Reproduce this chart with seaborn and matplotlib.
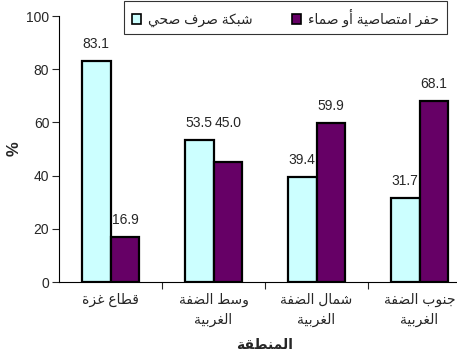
import matplotlib
matplotlib.use("Agg")
import matplotlib.pyplot as plt
from matplotlib.patches import Patch
import pandas as pd
import seaborn as sns

regions = ["قطاع غزة", "وسط الضفة\nالغربية", "شمال الضفة\nالغربية", "جنوب الضفة\nالغربية"]
series_names = ["شبكة صرف صحي", "حفر امتصاصية أو صماء"]
sewer_network = [83.1, 53.5, 39.4, 31.7]
cesspits = [16.9, 45.0, 59.9, 68.1]
y_ticks = [0, 20, 40, 60, 80, 100]
x_title = "المنطقة"
y_title = "%"
colors = ["#CCFFFF", "#660066"]

# matplotlib has no arabic shaping, so pick the presentation forms by hand
DUAL = {'ب': 0xFE8F, 'ت': 0xFE95, 'ج': 0xFE9D, 'ح': 0xFEA1, 'س': 0xFEB1, 'ش': 0xFEB5,
        'ص': 0xFEB9, 'ض': 0xFEBD, 'ط': 0xFEC1, 'ع': 0xFEC9, 'غ': 0xFECD, 'ف': 0xFED1,
        'ق': 0xFED5, 'ك': 0xFED9, 'ل': 0xFEDD, 'م': 0xFEE1, 'ن': 0xFEE5, 'ي': 0xFEF1}
RIGHT = {'أ': 0xFE83, 'ا': 0xFE8D, 'ة': 0xFE93, 'ر': 0xFEAD, 'ز': 0xFEAF, 'و': 0xFEED}


def shape_line(text):
    out = []
    for i, ch in enumerate(text):
        base = DUAL.get(ch, RIGHT.get(ch))
        if base is None:
            out.append(ch)
            continue
        prev = text[i - 1] if i > 0 else ''
        nxt = text[i + 1] if i + 1 < len(text) else ''
        joins_prev = prev in DUAL
        joins_next = ch in DUAL and (nxt in DUAL or nxt in RIGHT)
        if joins_prev and joins_next:
            base += 3
        elif joins_prev:
            base += 1
        elif joins_next:
            base += 2
        out.append(chr(base))
    return ''.join(reversed(out))


def shape(text):
    return "\n".join(shape_line(line) for line in text.split("\n"))


df = pd.DataFrame({
    "region": regions * 2,
    "value": sewer_network + cesspits,
    "type": [series_names[0]] * 4 + [series_names[1]] * 4,
})

sns.set_style("white")
plt.rcParams['font.family'] = ['Liberation Sans', 'DejaVu Sans']

fig = plt.figure(figsize=(4.57, 3.52), dpi=100)
ax = fig.add_axes([59 / 457, 70 / 352, 412 / 457, 266 / 352])

sns.barplot(data=df, x="region", y="value", hue="type", palette=colors, saturation=1,
            width=0.56, edgecolor="black", linewidth=1.6, legend=False, ax=ax)

ax.set_xlim(-0.5, 3.5)
ax.set_ylim(0, 100)
ax.set_yticks(y_ticks)
ax.tick_params(axis="y", labelsize=10, length=5, width=0.8, direction="out", left=True, pad=2)

ax.set_xticks([0.5, 1.5, 2.5])
ax.set_xticklabels([])
ax.tick_params(axis="x", which="major", length=5, width=0.8, direction="out", bottom=True)
ax.set_xticks(range(len(regions)), minor=True)
ax.set_xticklabels([shape(r) for r in regions], minor=True, fontsize=10, linespacing=1.5)
ax.tick_params(axis="x", which="minor", length=0, pad=8)

for side in ["top", "right"]:
    ax.spines[side].set_visible(False)
for side in ["left", "bottom"]:
    ax.spines[side].set_color("black")
    ax.spines[side].set_linewidth(0.8)

labels = []
for container in ax.containers:
    labels.append(ax.bar_label(container, fmt="%.1f", padding=7, fontsize=10))

# the 45.0 label sits level with its neighbour in the reference
for i in [1]:
    x, _ = labels[1][i].xy
    labels[1][i].xy = (x, labels[0][i].xy[1])

ax.set_ylabel(y_title, fontsize=12, fontweight="bold", labelpad=3)
ax.set_xlabel(shape(x_title), fontsize=10, fontweight="bold", labelpad=8)

handles = [Patch(facecolor=c, edgecolor="black", linewidth=1.2) for c in colors]
leg = fig.legend(handles, [shape(s) for s in series_names], ncol=2,
                 loc="upper right", bbox_to_anchor=(454 / 457, 1 + 6 / 352),
                 fontsize=10, frameon=True, fancybox=False, shadow=False,
                 handlelength=0.7, handleheight=0.7, handletextpad=0.5,
                 columnspacing=2.8, borderpad=0.55)
leg.get_frame().set_edgecolor("black")
leg.get_frame().set_linewidth(0.8)

fig.savefig("out.png", dpi=100)
